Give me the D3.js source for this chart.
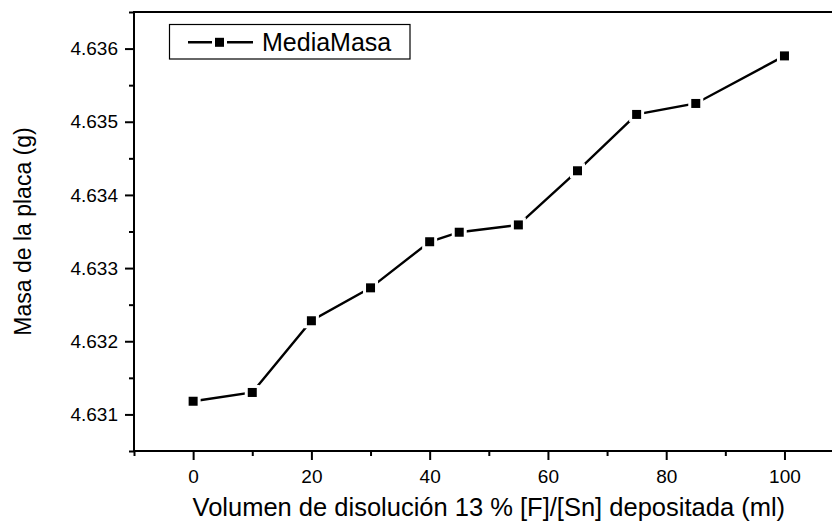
<!DOCTYPE html>
<html>
<head>
<meta charset="utf-8">
<script src="https://cdn.jsdelivr.net/npm/d3@7"></script>
<style>
  html, body { margin: 0; padding: 0; background: #fff; }
  svg { display: block; }
  text { font-family: "Liberation Sans", Arial, sans-serif; fill: #000; }
</style>
</head>
<body>
<svg id="chart" width="832" height="526"></svg>
<script>
// Volume of 13 % [F]/[Sn] solution deposited (ml)
const volumes = [0, 10, 20, 30, 40, 45, 55, 65, 75, 85, 100];
// Mean plate mass (g)
const meanMass = [4.63118, 4.63130, 4.63228, 4.63273, 4.63336, 4.63349, 4.63359,
                  4.63433, 4.63510, 4.63525, 4.63590];
const seriesName = "MediaMasa";
const xMajorTicks = [0, 20, 40, 60, 80, 100];
const xMinorTicks = [-10, 10, 30, 50, 70, 90, 110];
const yMajorTicks = [4.631, 4.632, 4.633, 4.634, 4.635, 4.636];
const yMinorTicks = [4.6305, 4.6315, 4.6325, 4.6335, 4.6345, 4.6355, 4.6365];
const xTitle = "Volumen de disolución 13 % [F]/[Sn] depositada (ml)";
const yTitle = "Masa de la placa (g)";

const svg = d3.select("#chart");
const plotLeft = 134, plotTop = 12, plotBottom = 451, plotRight = 843.6;

const x = d3.scaleLinear().domain([-10, 110]).range([plotLeft, plotRight]);
const y = d3.scaleLinear().domain([4.6305, 4.6365]).range([plotBottom, plotTop]);

// Frame (right edge lies outside the visible area)
svg.append("path")
  .attr("d", `M${plotRight},${plotTop}H${plotLeft}V${plotBottom}H${plotRight}`)
  .attr("fill", "none").attr("stroke", "#000").attr("stroke-width", 2);

// Bottom axis
const xAxis = svg.append("g").attr("transform", `translate(0,${plotBottom})`);
xAxis.call(d3.axisBottom(x).tickValues(xMajorTicks).tickSize(9).tickPadding(10)
  .tickFormat(d3.format("d")));
xAxis.append("g").call(d3.axisBottom(x).tickValues(xMinorTicks).tickSize(5).tickFormat(""));
xAxis.selectAll(".domain").remove();
xAxis.selectAll("line").attr("stroke", "#000").attr("stroke-width", 2);
xAxis.selectAll("text").style("font-size", "19px")
  .style("font-family", "'Liberation Sans', Arial, sans-serif");

// Left axis
const yAxis = svg.append("g").attr("transform", `translate(${plotLeft},0)`);
yAxis.call(d3.axisLeft(y).tickValues(yMajorTicks).tickSize(9).tickPadding(7)
  .tickFormat(d3.format(".3f")));
yAxis.append("g").call(d3.axisLeft(y).tickValues(yMinorTicks).tickSize(5).tickFormat(""));
yAxis.selectAll(".domain").remove();
yAxis.selectAll("line").attr("stroke", "#000").attr("stroke-width", 2);
yAxis.selectAll("text").style("font-size", "19px")
  .style("font-family", "'Liberation Sans', Arial, sans-serif");

// Axis titles
svg.append("text")
  .attr("x", (plotLeft + plotRight) / 2).attr("y", 516)
  .attr("text-anchor", "middle").style("font-size", "25.5px")
  .text(xTitle);
svg.append("text")
  .attr("transform", `translate(31,${(plotTop + plotBottom) / 2}) rotate(-90)`)
  .attr("text-anchor", "middle").style("font-size", "23px")
  .text(yTitle);

// Series line and markers (markers carry a white halo that breaks the line)
const points = volumes.map((v, i) => [v, meanMass[i]]);
svg.append("path")
  .datum(points)
  .attr("fill", "none").attr("stroke", "#000").attr("stroke-width", 2.4)
  .attr("d", d3.line().x(d => x(d[0])).y(d => y(d[1])));

const mSize = 9;
svg.append("g").selectAll("rect").data(points).join("rect")
  .attr("x", d => x(d[0]) - mSize / 2).attr("y", d => y(d[1]) - mSize / 2)
  .attr("width", mSize).attr("height", mSize)
  .attr("fill", "#000").attr("stroke", "#fff").attr("stroke-width", 6)
  .style("paint-order", "stroke");

// Legend
const lg = svg.append("g");
lg.append("rect").attr("x", 169.5).attr("y", 24.5).attr("width", 240.5).attr("height", 34.5)
  .attr("fill", "#fff").attr("stroke", "#000").attr("stroke-width", 1.2);
lg.append("line").attr("x1", 188).attr("x2", 253).attr("y1", 42.3).attr("y2", 42.3)
  .attr("stroke", "#000").attr("stroke-width", 2.6);
lg.append("rect").attr("x", 215).attr("y", 37.8).attr("width", 9).attr("height", 9)
  .attr("fill", "#000").attr("stroke", "#fff").attr("stroke-width", 6)
  .style("paint-order", "stroke");
lg.append("text").attr("x", 262).attr("y", 51).style("font-size", "25px").text(seriesName);
</script>
</body>
</html>
